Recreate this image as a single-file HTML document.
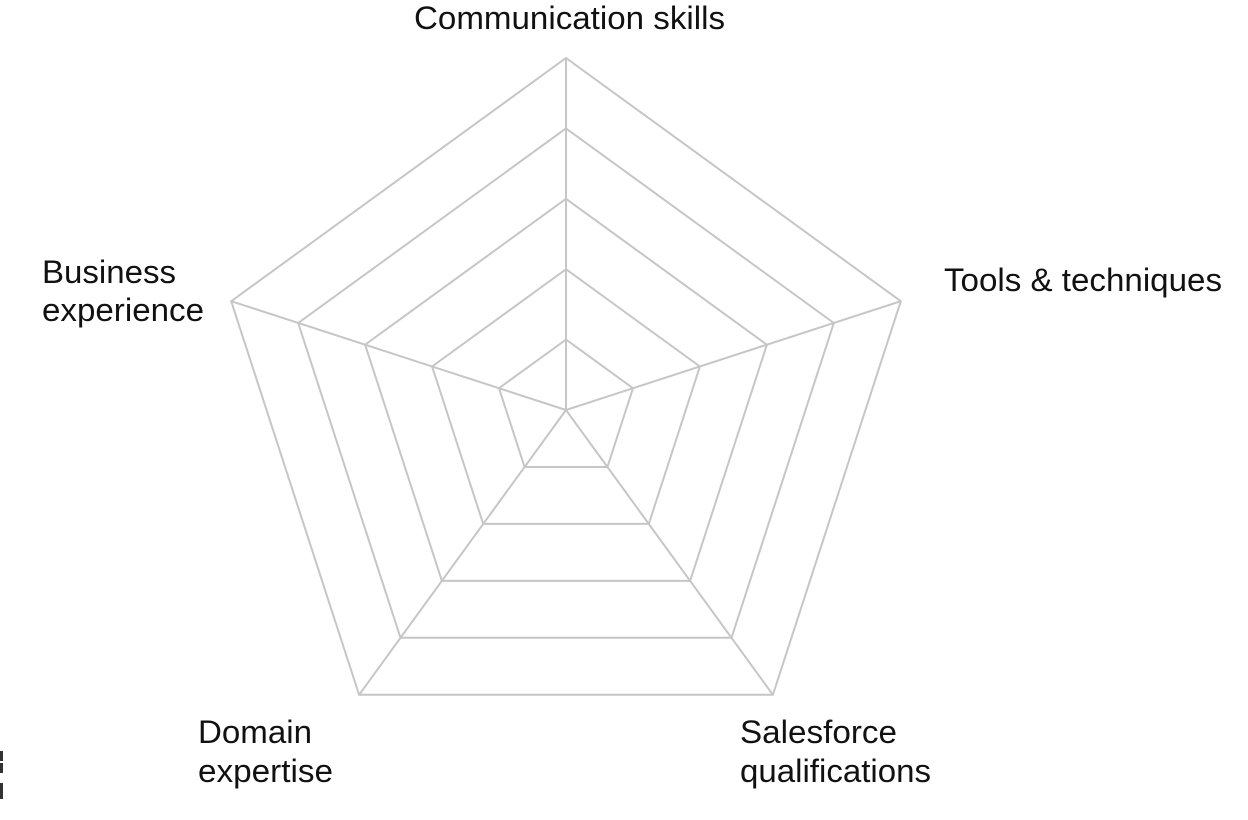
<!DOCTYPE html>
<html><head><meta charset="utf-8"><style>
html,body{margin:0;padding:0;background:#fff;width:1248px;height:820px;overflow:hidden}
text{font-family:"Liberation Sans",Arial,sans-serif;font-size:32px;fill:#111}
</style></head><body>
<svg width="1248" height="820" viewBox="0 0 1248 820" xmlns="http://www.w3.org/2000/svg">
<g transform="translate(566 410)" fill="none" stroke="#c6c6c6" stroke-width="2">
<polygon points="0,-352 334.8,-108.8 206.9,284.8 -206.9,284.8 -334.8,-108.8"/>
<polygon points="0,-281.6 267.8,-87 165.5,227.8 -165.5,227.8 -267.8,-87"/>
<polygon points="0,-211.2 200.9,-65.3 124.1,170.9 -124.1,170.9 -200.9,-65.3"/>
<polygon points="0,-140.8 133.9,-43.5 82.8,113.9 -82.8,113.9 -133.9,-43.5"/>
<polygon points="0,-70.4 67,-21.8 41.4,57 -41.4,57 -67,-21.8"/>
<line x1="0" y1="0" x2="0" y2="-352"/>
<line x1="0" y1="0" x2="334.8" y2="-108.8"/>
<line x1="0" y1="0" x2="206.9" y2="284.8"/>
<line x1="0" y1="0" x2="-206.9" y2="284.8"/>
<line x1="0" y1="0" x2="-334.8" y2="-108.8"/>
</g>
<text x="414" y="29" textLength="311" lengthAdjust="spacingAndGlyphs">Communication skills</text>
<text x="944" y="291" textLength="278" lengthAdjust="spacingAndGlyphs">Tools &amp; techniques</text>
<text x="42" y="283" textLength="134" lengthAdjust="spacingAndGlyphs">Business</text>
<text x="42" y="321" textLength="162" lengthAdjust="spacingAndGlyphs">experience</text>
<text x="198" y="743" textLength="114" lengthAdjust="spacingAndGlyphs">Domain</text>
<text x="198" y="782" textLength="135" lengthAdjust="spacingAndGlyphs">expertise</text>
<text x="740" y="743" textLength="157" lengthAdjust="spacingAndGlyphs">Salesforce</text>
<text x="740" y="782" textLength="191" lengthAdjust="spacingAndGlyphs">qualifications</text>
<rect x="0" y="751" width="3" height="10" fill="#333"/>
<rect x="0" y="763" width="3" height="10" fill="#333"/>
<rect x="0" y="783" width="3" height="16" fill="#333"/>
</svg>
</body></html>
